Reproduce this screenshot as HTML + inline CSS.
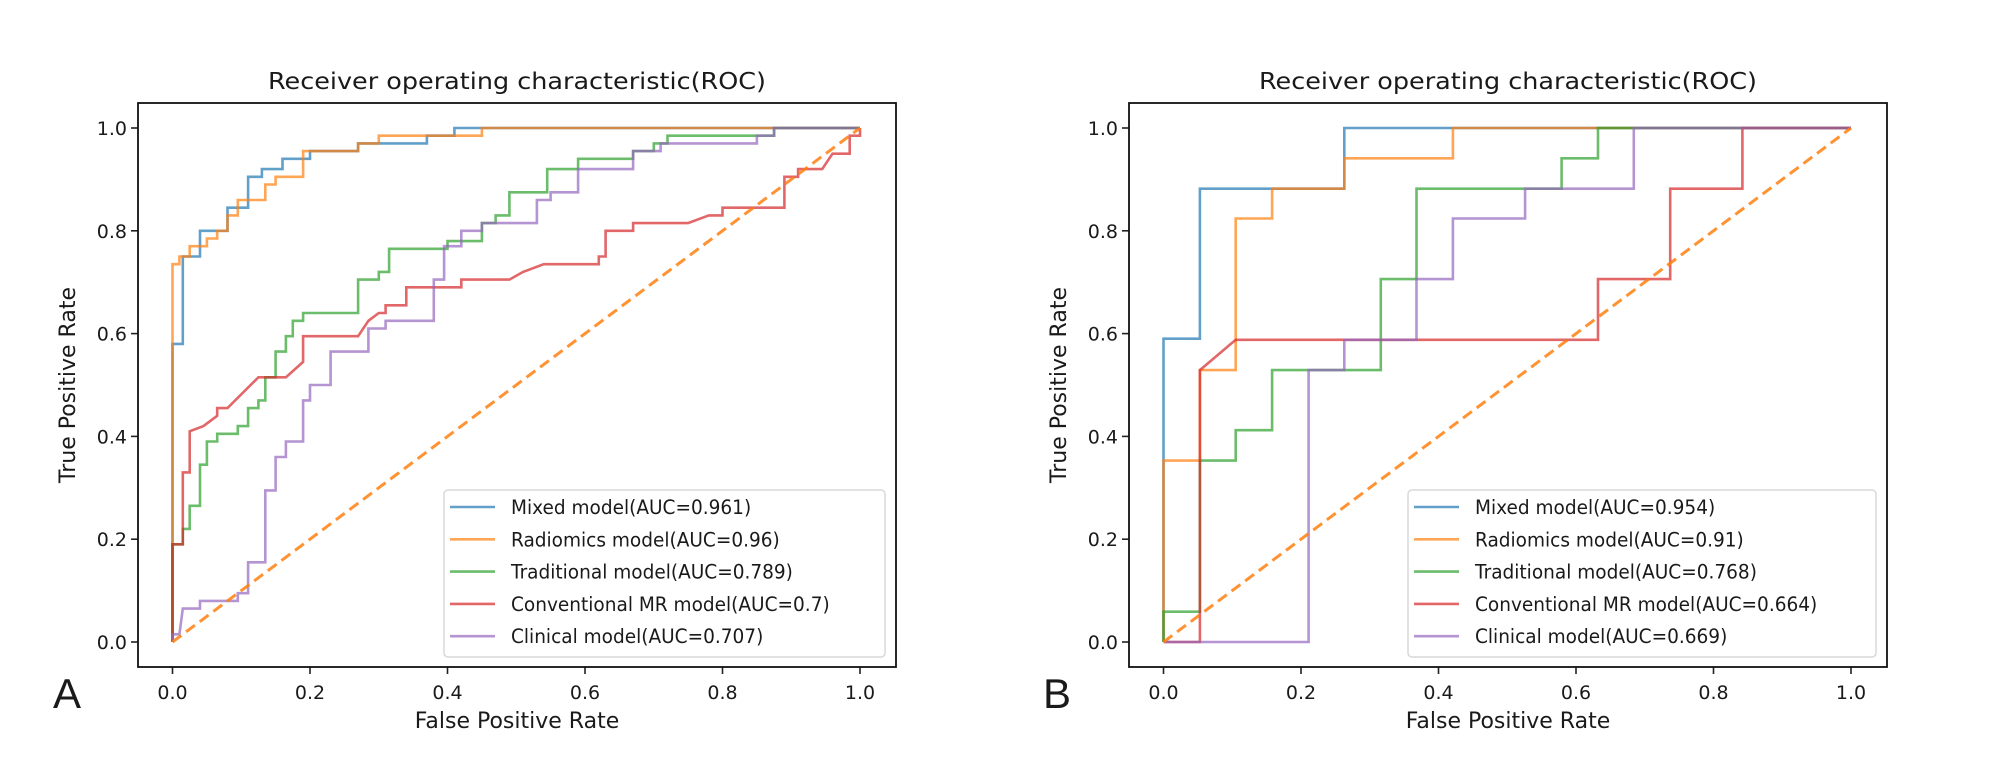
<!DOCTYPE html>
<html><head><meta charset="utf-8">
<style>
html,body{margin:0;padding:0;background:#fff;}
svg{display:block;}
text{font-family:"DejaVu Sans","Liberation Sans",sans-serif;fill:#1a1a1a;}
</style></head>
<body>
<svg id="fig" width="2000" height="763" viewBox="0 0 2000 763" xmlns="http://www.w3.org/2000/svg"></svg>
<script>
// ---------- Data ----------
const seriesNames = ["Mixed model","Radiomics model","Traditional model","Conventional MR model","Clinical model"];
const aucA = ["0.961","0.96","0.789","0.7","0.707"];
const aucB = ["0.954","0.91","0.768","0.664","0.669"];
const tickLabels = ["0.0","0.2","0.4","0.6","0.8","1.0"];
const tickValues = [0,0.2,0.4,0.6,0.8,1.0];

const A_mixed_fpr = [0,0,0.015,0.015,0.04,0.04,0.08,0.08,0.11,0.11,0.13,0.13,0.16,0.16,0.2,0.2,0.27,0.27,0.37,0.37,0.41,0.41,1];
const A_mixed_tpr = [0,0.58,0.58,0.75,0.75,0.8,0.8,0.845,0.845,0.905,0.905,0.92,0.92,0.94,0.94,0.955,0.955,0.97,0.97,0.985,0.985,1,1];
const A_radio_fpr = [0,0,0.01,0.01,0.025,0.025,0.05,0.05,0.065,0.065,0.08,0.08,0.095,0.095,0.135,0.135,0.15,0.15,0.19,0.19,0.27,0.27,0.3,0.3,0.45,0.45,1];
const A_radio_tpr = [0,0.735,0.735,0.75,0.75,0.77,0.77,0.785,0.785,0.8,0.8,0.83,0.83,0.86,0.86,0.89,0.89,0.905,0.905,0.955,0.955,0.97,0.97,0.985,0.985,1,1];
const A_trad_fpr = [0,0,0.015,0.015,0.025,0.025,0.04,0.04,0.05,0.05,0.065,0.065,0.095,0.095,0.11,0.11,0.125,0.125,0.135,0.135,0.15,0.15,0.165,0.165,0.175,0.175,0.19,0.19,0.27,0.27,0.3,0.3,0.315,0.315,0.4,0.4,0.45,0.45,0.47,0.47,0.49,0.49,0.545,0.545,0.59,0.59,0.67,0.67,0.7,0.7,0.72,0.72,0.85,0.85,0.875,0.875,1];
const A_trad_tpr = [0,0.19,0.19,0.22,0.22,0.265,0.265,0.345,0.345,0.39,0.39,0.405,0.405,0.42,0.42,0.455,0.455,0.47,0.47,0.515,0.515,0.565,0.565,0.595,0.595,0.625,0.625,0.64,0.64,0.705,0.705,0.72,0.72,0.765,0.765,0.78,0.78,0.815,0.815,0.83,0.83,0.875,0.875,0.92,0.92,0.94,0.94,0.955,0.955,0.97,0.97,0.985,0.985,0.985,0.985,1,1];
const A_conv_fpr = [0,0,0.015,0.015,0.025,0.025,0.045,0.065,0.065,0.08,0.125,0.165,0.19,0.19,0.27,0.285,0.3,0.31,0.31,0.34,0.34,0.42,0.42,0.49,0.51,0.54,0.62,0.62,0.63,0.63,0.67,0.67,0.75,0.78,0.8,0.8,0.89,0.89,0.91,0.91,0.945,0.96,0.985,0.985,1,1];
const A_conv_tpr = [0,0.19,0.19,0.33,0.33,0.41,0.42,0.44,0.455,0.455,0.515,0.515,0.545,0.595,0.595,0.625,0.64,0.64,0.655,0.655,0.69,0.69,0.705,0.705,0.72,0.735,0.735,0.75,0.75,0.8,0.8,0.815,0.815,0.83,0.83,0.845,0.845,0.905,0.905,0.92,0.92,0.95,0.95,0.985,0.985,1];
const A_clin_fpr = [0,0,0.01,0.015,0.04,0.04,0.095,0.095,0.11,0.11,0.135,0.135,0.15,0.15,0.165,0.165,0.19,0.19,0.2,0.2,0.23,0.23,0.285,0.285,0.31,0.31,0.38,0.38,0.395,0.395,0.42,0.42,0.45,0.45,0.53,0.53,0.55,0.55,0.59,0.59,0.67,0.67,0.71,0.71,0.85,0.85,0.875,0.875,1];
const A_clin_tpr = [0,0.015,0.015,0.065,0.065,0.08,0.08,0.095,0.095,0.155,0.155,0.295,0.295,0.36,0.36,0.39,0.39,0.47,0.47,0.5,0.5,0.565,0.565,0.61,0.61,0.625,0.625,0.705,0.705,0.77,0.77,0.8,0.8,0.815,0.815,0.86,0.86,0.875,0.875,0.92,0.92,0.955,0.955,0.97,0.97,0.985,0.985,1,1];

const B_mixed_fpr = [0,0,0.053,0.053,0.263,0.263,1];
const B_mixed_tpr = [0,0.59,0.59,0.882,0.882,1,1];
const B_radio_fpr = [0,0,0.053,0.053,0.105,0.105,0.158,0.158,0.263,0.263,0.421,0.421,1];
const B_radio_tpr = [0,0.353,0.353,0.529,0.529,0.824,0.824,0.882,0.882,0.941,0.941,1,1];
const B_trad_fpr = [0,0,0.053,0.053,0.105,0.105,0.158,0.158,0.316,0.316,0.368,0.368,0.579,0.579,0.632,0.632,1];
const B_trad_tpr = [0,0.059,0.059,0.353,0.353,0.412,0.412,0.529,0.529,0.706,0.706,0.882,0.882,0.941,0.941,1,1];
const B_conv_fpr = [0,0.053,0.053,0.105,0.632,0.632,0.737,0.737,0.842,0.842,1];
const B_conv_tpr = [0,0,0.529,0.588,0.588,0.706,0.706,0.882,0.882,1,1];
const B_clin_fpr = [0,0.211,0.211,0.263,0.263,0.368,0.368,0.421,0.421,0.526,0.526,0.684,0.684,1];
const B_clin_tpr = [0,0,0.529,0.529,0.588,0.588,0.706,0.706,0.824,0.824,0.882,0.882,1,1];

// ---------- Drawing ----------
const colors = ["#1f77b4","#ff7f0e","#2ca02c","#d62728","#9467bd"];
const keys = ["mixed","radiomics","traditional","conventional-mr","clinical"];
const NS = "http://www.w3.org/2000/svg";
const svg = document.getElementById("fig");
function mk(tag, attrs, parent){
  const e = document.createElementNS(NS, tag);
  for (const k in attrs) e.setAttribute(k, attrs[k]);
  (parent||svg).appendChild(e);
  return e;
}

function drawPanel(p){
  const g = mk("g", {});
  
  
  const x0 = p.left + 34.5, x1 = p.left + 722, y0 = 642, y1 = 128;
  const sx = v => x0 + v*(x1-x0);
  const sy = v => y0 - v*(y0-y1);
  // title
  const t = mk("text", {x:p.left+379, y:89, "font-size":23, "text-anchor":"middle", textLength:498, lengthAdjust:"spacingAndGlyphs"}, g);
  t.textContent = "Receiver operating characteristic(ROC)";
  
  
  // ticks
  tickValues.forEach((v,i)=>{
    const tx = mk("line",{x1:sx(v),x2:sx(v),y1:667,y2:674,stroke:"#222","stroke-width":1.6},g);
    
    
    const lx = mk("text",{x:sx(v),y:699,"font-size":19,"text-anchor":"middle"},g);
    lx.textContent = tickLabels[i];
    
    
    const ty = mk("line",{x1:p.left-7,x2:p.left,y1:sy(v),y2:sy(v),stroke:"#222","stroke-width":1.6},g);
    
    
    const ly = mk("text",{x:p.left-11,y:sy(v)+7,"font-size":19,"text-anchor":"end"},g);
    ly.textContent = tickLabels[i];
    
    
  });
  const xl = mk("text",{x:p.left+379,y:728,"font-size":22,"text-anchor":"middle"},g);
  xl.textContent = "False Positive Rate";
  
  
  const yl = mk("text",{x:0,y:0,"font-size":22,"text-anchor":"middle",transform:`translate(${p.left-63},385) rotate(-90)`},g);
  yl.textContent = "True Positive Rate";
  
  
  // panel letter
  const pl = mk("text",{x:p.letterX,y:708,"font-size":42,style:'font-family:"Liberation Sans",sans-serif',fill:"#000"},g);
  pl.textContent = p.id;
  
  
  // series
  p.series.forEach((s,i)=>{
    const pts = s[0].map((f,j)=> sx(f).toFixed(1)+","+sy(s[1][j]).toFixed(1)).join(" ");
    const pl2 = mk("polyline",{points:pts,fill:"none",stroke:colors[i],"stroke-width":2.6,"stroke-opacity":0.7,"stroke-linejoin":"miter"},g);
    
    
  });
  const dg = mk("line",{x1:sx(0),y1:sy(0),x2:sx(1),y2:sy(1),stroke:"#ff7f0e","stroke-width":3,"stroke-dasharray":"11,6","stroke-opacity":0.85},g);
  
  
  // frame
  const fr = mk("rect",{x:p.left,y:103,width:758,height:564,fill:"none",stroke:"#111","stroke-width":1.8},g);
  
  
  // legend
  const lg = mk("g",{},g);
  
  
  const lb = mk("rect",{x:p.legX,y:490,width:p.legW,height:167,rx:4,fill:"#fff","fill-opacity":0.85,stroke:"#d9d9d9","stroke-width":1.5},lg);
  
  
  seriesNames.forEach((n,i)=>{
    const cy = 507 + i*32.3;
    const le = mk("line",{x1:p.legX+6,x2:p.legX+51,y1:cy,y2:cy,stroke:colors[i],"stroke-width":2.6,"stroke-opacity":0.7},lg);
    
    
    const lt = mk("text",{x:p.legX+67,y:cy+7,"font-size":19.5,transform:`translate(${(p.legX+67)*0.05},0) scale(0.95,1)`},lg);
    lt.textContent = n + "(AUC=" + p.auc[i] + ")";
    
    
  });
}

drawPanel({id:"A",left:138,letterX:53,legX:444,legW:441,auc:aucA,
  series:[[A_mixed_fpr,A_mixed_tpr],[A_radio_fpr,A_radio_tpr],[A_trad_fpr,A_trad_tpr],[A_conv_fpr,A_conv_tpr],[A_clin_fpr,A_clin_tpr]]});
drawPanel({id:"B",left:1129,letterX:1043,legX:1408,legW:468,auc:aucB,
  series:[[B_mixed_fpr,B_mixed_tpr],[B_radio_fpr,B_radio_tpr],[B_trad_fpr,B_trad_tpr],[B_conv_fpr,B_conv_tpr],[B_clin_fpr,B_clin_tpr]]});
</script>
</body></html>
